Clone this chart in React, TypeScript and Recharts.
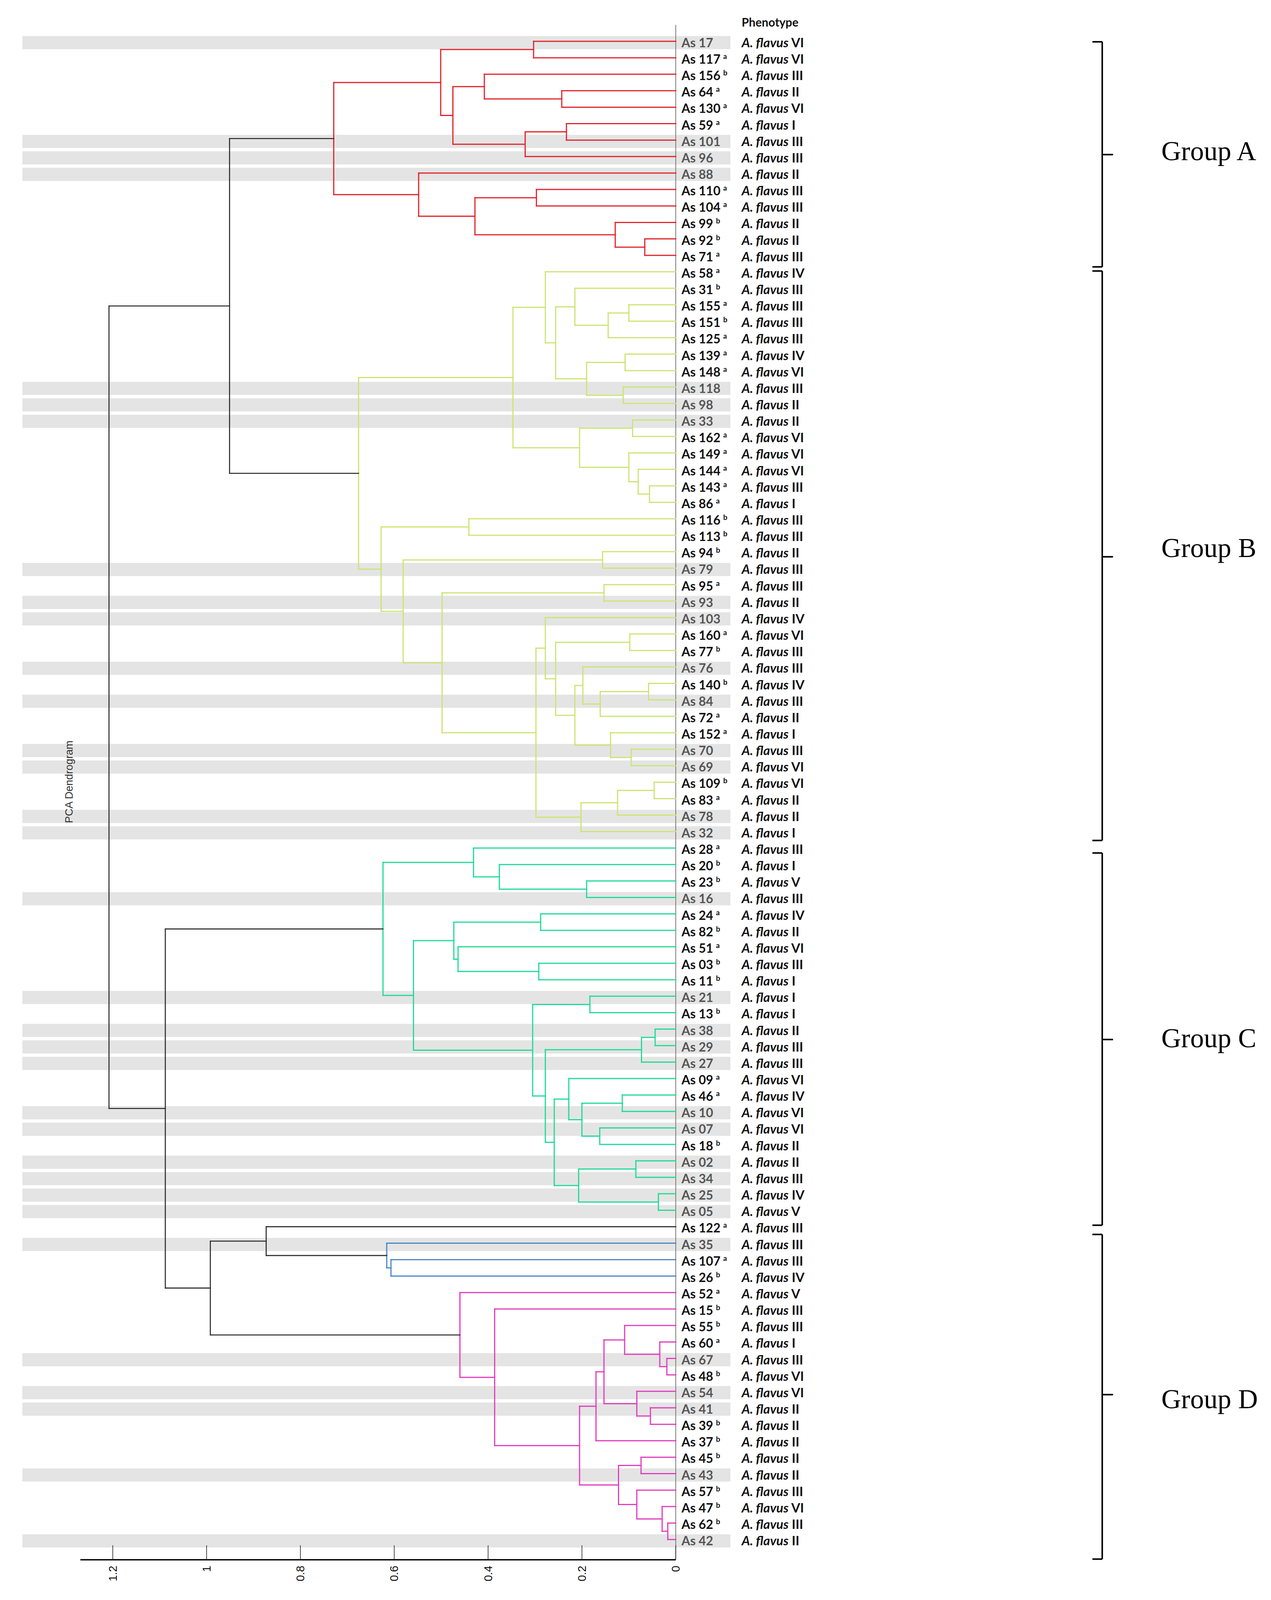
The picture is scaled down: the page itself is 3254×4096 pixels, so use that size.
import React from 'react';
import { ScatterChart, Scatter, XAxis, YAxis, ReferenceLine, ReferenceArea } from 'recharts';

// ---------- data ----------
const leafIds = [
  '17', '117', '156', '64', '130', '59', '101', '96', '88', '110', '104', '99', '92', '71',
  '58', '31', '155', '151', '125', '139', '148', '118', '98', '33', '162', '149', '144', '143', '86',
  '116', '113', '94', '79', '95', '93', '103', '160', '77', '76', '140', '84', '72', '152', '70', '69',
  '109', '83', '78', '32',
  '28', '20', '23', '16', '24', '82', '51', '03', '11', '21', '13', '38', '29', '27', '09', '46', '10',
  '07', '18', '02', '34', '25', '05',
  '122', '35', '107', '26', '52', '15', '55', '60', '67', '48', '54', '41', '39', '37', '45', '43', '57',
  '47', '62', '42',
];

const leafSup = [
  '', 'a', 'b', 'a', 'a', 'a', '', '', '', 'a', 'a', 'b', 'b', 'a',
  'a', 'b', 'a', 'b', 'a', 'a', 'a', '', '', '', 'a', 'a', 'a', 'a', 'a',
  'b', 'b', 'b', '', 'a', '', '', 'a', 'b', '', 'b', '', 'a', 'a', '', '',
  'b', 'a', '', '',
  'a', 'b', 'b', '', 'a', 'b', 'a', 'b', 'b', '', 'b', '', '', '', 'a', 'a', '',
  '', 'b', '', '', '', '',
  'a', '', 'a', 'b', 'a', 'b', 'b', 'a', '', 'b', '', '', 'b', 'b', 'b', '', 'b',
  'b', 'b', '',
];

const leafPheno = [
  'VI', 'VI', 'III', 'II', 'VI', 'I', 'III', 'III', 'II', 'III', 'III', 'II', 'II', 'III',
  'IV', 'III', 'III', 'III', 'III', 'IV', 'VI', 'III', 'II', 'II', 'VI', 'VI', 'VI', 'III', 'I',
  'III', 'III', 'II', 'III', 'III', 'II', 'IV', 'VI', 'III', 'III', 'IV', 'III', 'II', 'I', 'III', 'VI',
  'VI', 'II', 'II', 'I',
  'III', 'I', 'V', 'III', 'IV', 'II', 'VI', 'III', 'I', 'I', 'I', 'II', 'III', 'III', 'VI', 'IV', 'VI',
  'VI', 'II', 'II', 'III', 'IV', 'V',
  'III', 'III', 'III', 'IV', 'V', 'III', 'III', 'I', 'III', 'VI', 'VI', 'II', 'II', 'II', 'II', 'II', 'III',
  'VI', 'III', 'II',
];

// merges: [node id, child, child, merge height, cluster]
const merges: [string, string, string, number, string][] = [
  ['a1', '17', '117', 0.303, 'A'],
  ['a2', '64', '130', 0.243, 'A'],
  ['a3', '156', 'a2', 0.408, 'A'],
  ['a4', '59', '101', 0.233, 'A'],
  ['a5', 'a4', '96', 0.321, 'A'],
  ['a6', 'a3', 'a5', 0.475, 'A'],
  ['a7', 'a1', 'a6', 0.501, 'A'],
  ['a8', '92', '71', 0.066, 'A'],
  ['a9', '99', 'a8', 0.129, 'A'],
  ['a10', '110', '104', 0.297, 'A'],
  ['a11', 'a10', 'a9', 0.428, 'A'],
  ['a12', '88', 'a11', 0.548, 'A'],
  ['a13', 'a7', 'a12', 0.729, 'A'],

  ['b1', '155', '151', 0.100, 'B'],
  ['b2', 'b1', '125', 0.144, 'B'],
  ['b3', '31', 'b2', 0.215, 'B'],
  ['b4', '139', '148', 0.108, 'B'],
  ['b5', '118', '98', 0.112, 'B'],
  ['b6', 'b4', 'b5', 0.190, 'B'],
  ['b7', 'b3', 'b6', 0.256, 'B'],
  ['b8', '58', 'b7', 0.278, 'B'],
  ['b9', '33', '162', 0.092, 'B'],
  ['b10', '143', '86', 0.056, 'B'],
  ['b11', '144', 'b10', 0.080, 'B'],
  ['b12', '149', 'b11', 0.100, 'B'],
  ['b13', 'b9', 'b12', 0.205, 'B'],
  ['b14', 'b8', 'b13', 0.347, 'B'],
  ['b15', '116', '113', 0.441, 'B'],
  ['b16', '94', '79', 0.156, 'B'],
  ['b17', '95', '93', 0.153, 'B'],
  ['b18', '160', '77', 0.098, 'B'],
  ['b19', '140', '84', 0.058, 'B'],
  ['b20', 'b19', '72', 0.161, 'B'],
  ['b21', '76', 'b20', 0.198, 'B'],
  ['b22', '70', '69', 0.095, 'B'],
  ['b23', '152', 'b22', 0.139, 'B'],
  ['b24', 'b21', 'b23', 0.215, 'B'],
  ['b25', 'b18', 'b24', 0.256, 'B'],
  ['b26', '103', 'b25', 0.278, 'B'],
  ['b27', '109', '83', 0.046, 'B'],
  ['b28', 'b27', '78', 0.124, 'B'],
  ['b29', 'b28', '32', 0.202, 'B'],
  ['b30', 'b26', 'b29', 0.298, 'B'],
  ['b31', 'b17', 'b30', 0.498, 'B'],
  ['b32', 'b16', 'b31', 0.581, 'B'],
  ['b33', 'b15', 'b32', 0.628, 'B'],
  ['b34', 'b14', 'b33', 0.676, 'B'],

  ['t1', 'a13', 'b34', 0.951, 'K'],

  ['c1', '23', '16', 0.190, 'C'],
  ['c2', '20', 'c1', 0.376, 'C'],
  ['c3', '28', 'c2', 0.431, 'C'],
  ['c4', '24', '82', 0.288, 'C'],
  ['c5', '03', '11', 0.292, 'C'],
  ['c6', '51', 'c5', 0.464, 'C'],
  ['c7', 'c4', 'c6', 0.473, 'C'],
  ['c8', '21', '13', 0.183, 'C'],
  ['c9', '38', '29', 0.044, 'C'],
  ['c10', 'c9', '27', 0.073, 'C'],
  ['c11', '46', '10', 0.114, 'C'],
  ['c12', '07', '18', 0.162, 'C'],
  ['c13', 'c11', 'c12', 0.200, 'C'],
  ['c14', '09', 'c13', 0.228, 'C'],
  ['c15', '02', '34', 0.085, 'C'],
  ['c16', '25', '05', 0.037, 'C'],
  ['c17', 'c15', 'c16', 0.207, 'C'],
  ['c18', 'c14', 'c17', 0.259, 'C'],
  ['c19', 'c10', 'c18', 0.278, 'C'],
  ['c20', 'c8', 'c19', 0.305, 'C'],
  ['c21', 'c7', 'c20', 0.559, 'C'],
  ['c22', 'c3', 'c21', 0.624, 'C'],

  ['e1', '107', '26', 0.607, 'E'],
  ['e2', '35', 'e1', 0.616, 'E'],
  ['t2', '122', 'e2', 0.873, 'K'],

  ['d1', '67', '48', 0.019, 'D'],
  ['d2', '60', 'd1', 0.034, 'D'],
  ['d3', '55', 'd2', 0.109, 'D'],
  ['d4', '41', '39', 0.054, 'D'],
  ['d5', '54', 'd4', 0.083, 'D'],
  ['d6', 'd3', 'd5', 0.153, 'D'],
  ['d7', 'd6', '37', 0.170, 'D'],
  ['d8', '45', '43', 0.074, 'D'],
  ['d9', '62', '42', 0.017, 'D'],
  ['d10', '47', 'd9', 0.029, 'D'],
  ['d11', '57', 'd10', 0.083, 'D'],
  ['d12', 'd8', 'd11', 0.122, 'D'],
  ['d13', 'd7', 'd12', 0.205, 'D'],
  ['d14', '15', 'd13', 0.386, 'D'],
  ['d15', '52', 'd14', 0.460, 'D'],

  ['t3', 't2', 'd15', 0.992, 'K'],
  ['t4', 'c22', 't3', 1.088, 'K'],
  ['t5', 't1', 't4', 1.208, 'K'],
];

const xTicks = [1.2, 1, 0.8, 0.6, 0.4, 0.2, 0];

const groupNames = ['Group A', 'Group B', 'Group C', 'Group D'];
const groupStartRow = [0.03, 13.95, 49.3, 72.47];
const groupEndRow = [13.7, 48.54, 71.91, 92.19];
const groupMidRow = [6.88, 31.31, 60.63, 82.2];
const groupLabelRow = [6.63, 30.75, 60.51, 82.45];

// ---------- layout constants ----------
const W = 3254;
const H = 4096;
const X_DOMAIN: [number, number] = [-1.2687, 1.4403];
const Y_DOMAIN: [number, number] = [-2.51, 92.23];
const AXIS_ROW = 92.23;
const AXIS_START = 1.269;
const BAND_LEFT = 1.3926;
const BAND_RIGHT = -0.1165;
const LABEL_X = -0.0122;
const PHENO_X = -0.1405;
const BRACE_X = -0.909;
const BRACE_HOOK = -0.888;
const BRACE_TIP = -0.932;
const GROUP_LABEL_X = -1.035;

const clusterColors: Record<string, string> = {
  A: '#e3232b',
  B: '#cde472',
  C: '#1fdb98',
  D: '#e23cbd',
  E: '#4a86c4',
  K: '#262626',
};

// ---------- build dendrogram segments ----------
const leafIndex = new Map<string, number>(leafIds.map((id, i) => [id, i]));
type Pt = { x: number; y: number };
const nodePos = new Map<string, Pt>();
const posOf = (ref: string): Pt => {
  if (leafIndex.has(ref)) return { x: 0, y: leafIndex.get(ref) as number };
  return nodePos.get(ref) as Pt;
};
type Seg = { x1: number; y1: number; x2: number; y2: number; color: string; w: number };
const segments: Seg[] = [];
merges.forEach(([id, a, b, h, g]) => {
  const pa = posOf(a);
  const pb = posOf(b);
  nodePos.set(id, { x: h, y: (pa.y + pb.y) / 2 });
  const color = clusterColors[g];
  const w = g === 'K' ? 2.6 : 3;
  segments.push({ x1: h, y1: pa.y, x2: h, y2: pb.y, color, w });
  segments.push({ x1: pa.x, y1: pa.y, x2: h, y2: pa.y, color, w });
  segments.push({ x1: pb.x, y1: pb.y, x2: h, y2: pb.y, color, w });
});

const leafData = leafIds.map((id, i) => ({ x: LABEL_X, y: i, id, sup: leafSup[i] }));
const phenoData = leafIds.map((id, i) => ({ x: PHENO_X, y: i, pheno: leafPheno[i] }));
const headerData = [{ x: PHENO_X, y: -1.15, text: 'Phenotype' }];
const titleData = [{ x: 1.293, y: 44.98, text: 'PCA Dendrogram' }];
const groupData = groupNames.map((name, i) => ({ x: GROUP_LABEL_X, y: groupLabelRow[i], name }));

const SANS = "Lato, 'Open Sans', sans-serif";

const LeafLabel = (props: any) => {
  const { cx, cy, payload } = props;
  const strong = payload.sup !== '';
  return (
    <text
      x={cx}
      y={cy + 15}
      fontFamily={SANS}
      fontSize={32}
      fontWeight={700}
      fill={strong ? '#111' : '#555'}
    >
      {`As ${payload.id}`}
      {strong ? (
        <tspan dx={7} dy={-12} fontSize={19}>
          {payload.sup}
        </tspan>
      ) : null}
    </text>
  );
};

const PhenoLabel = (props: any) => {
  const { cx, cy, payload } = props;
  return (
    <text x={cx} y={cy + 15} fontFamily={SANS} fontSize={33} fontWeight={700} fill="#111">
      <tspan fontStyle="italic">A. flavus</tspan> {payload.pheno}
    </text>
  );
};

const HeaderLabel = (props: any) => {
  const { cx, cy, payload } = props;
  return (
    <text x={cx} y={cy + 11} fontFamily={SANS} fontSize={30} fontWeight={700} fill="#111">
      {payload.text}
    </text>
  );
};

const TitleLabel = (props: any) => {
  const { cx, cy, payload } = props;
  return (
    <text
      x={cx}
      y={cy}
      dy="0.35em"
      textAnchor="middle"
      transform={`rotate(-90 ${cx} ${cy})`}
      fontFamily="'Liberation Sans', Arial, sans-serif"
      fontSize={27}
      fill="#333"
    >
      {payload.text}
    </text>
  );
};

const GroupLabel = (props: any) => {
  const { cx, cy, payload } = props;
  return (
    <text
      x={cx}
      y={cy}
      dy="0.35em"
      fontFamily="'Liberation Serif', 'Times New Roman', serif"
      fontSize={70}
      fill="#000"
    >
      {payload.name}
    </text>
  );
};

const AxisTick = (props: any) => {
  const { x, y, payload } = props;
  const ty = y + 15;
  return (
    <g>
      <line x1={x} x2={x} y1={y - 37} y2={y} stroke="#222" strokeWidth={1.6} />
      <text
        x={x}
        y={ty}
        dy="0.35em"
        textAnchor="end"
        transform={`rotate(-90 ${x} ${ty})`}
        fontFamily="'Liberation Sans', Arial, sans-serif"
        fontSize={29}
        fill="#111"
      >
        {payload.value}
      </text>
    </g>
  );
};

export default function App() {
  return (
    <div style={{ position: 'absolute', left: 0, top: 0, width: W, height: H, background: '#fff' }}>
      <ScatterChart width={W} height={H} margin={{ top: 0, right: 0, bottom: 0, left: 0 }}>
        <XAxis
          type="number"
          dataKey="x"
          domain={X_DOMAIN}
          reversed
          allowDataOverflow
          ticks={xTicks}
          interval={0}
          axisLine={false}
          tickLine={false}
          tickSize={0}
          tickMargin={0}
          height={103}
          tick={<AxisTick />}
        />
        <YAxis type="number" dataKey="y" domain={Y_DOMAIN} reversed allowDataOverflow hide width={0} />

        {leafIds.map((id, i) =>
          leafSup[i] === '' ? (
            <ReferenceArea
              key={`band-${id}`}
              x1={BAND_LEFT}
              x2={BAND_RIGHT}
              y1={i - 0.32}
              y2={i + 0.48}
              fill="#e4e4e4"
              fillOpacity={1}
              stroke="none"
              ifOverflow="visible"
            />
          ) : null
        )}

        <ReferenceLine
          segment={[{ x: 0, y: -1.0 }, { x: 0, y: AXIS_ROW }]}
          stroke="#7a7a7a"
          strokeWidth={2}
          ifOverflow="visible"
        />

        {segments.map((s, i) => (
          <ReferenceLine
            key={`seg-${i}`}
            segment={[{ x: s.x1, y: s.y1 }, { x: s.x2, y: s.y2 }]}
            stroke={s.color}
            strokeWidth={s.w}
            strokeLinecap="square"
            ifOverflow="visible"
          />
        ))}

        <ReferenceLine
          segment={[{ x: AXIS_START, y: AXIS_ROW }, { x: 0, y: AXIS_ROW }]}
          stroke="#000"
          strokeWidth={3.5}
          ifOverflow="visible"
        />

        {groupNames.map((g, i) => (
          <ReferenceLine
            key={`bv-${g}`}
            segment={[{ x: BRACE_X, y: groupStartRow[i] }, { x: BRACE_X, y: groupEndRow[i] }]}
            stroke="#000"
            strokeWidth={4}
            ifOverflow="visible"
          />
        ))}
        {groupNames.map((g, i) => (
          <ReferenceLine
            key={`bt-${g}`}
            segment={[{ x: BRACE_HOOK, y: groupStartRow[i] }, { x: BRACE_X, y: groupStartRow[i] }]}
            stroke="#000"
            strokeWidth={4}
            ifOverflow="visible"
          />
        ))}
        {groupNames.map((g, i) => (
          <ReferenceLine
            key={`bb-${g}`}
            segment={[{ x: BRACE_HOOK, y: groupEndRow[i] }, { x: BRACE_X, y: groupEndRow[i] }]}
            stroke="#000"
            strokeWidth={4}
            ifOverflow="visible"
          />
        ))}
        {groupNames.map((g, i) => (
          <ReferenceLine
            key={`bm-${g}`}
            segment={[{ x: BRACE_X, y: groupMidRow[i] }, { x: BRACE_TIP, y: groupMidRow[i] }]}
            stroke="#000"
            strokeWidth={4}
            ifOverflow="visible"
          />
        ))}

        <Scatter data={leafData} shape={<LeafLabel />} isAnimationActive={false} />
        <Scatter data={phenoData} shape={<PhenoLabel />} isAnimationActive={false} />
        <Scatter data={headerData} shape={<HeaderLabel />} isAnimationActive={false} />
        <Scatter data={titleData} shape={<TitleLabel />} isAnimationActive={false} />
        <Scatter data={groupData} shape={<GroupLabel />} isAnimationActive={false} />
      </ScatterChart>
    </div>
  );
}
